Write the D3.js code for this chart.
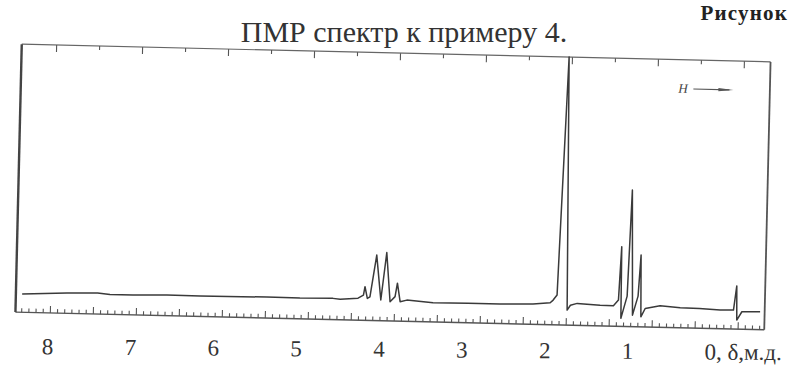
<!DOCTYPE html>
<html><head><meta charset="utf-8">
<script src="https://cdn.jsdelivr.net/npm/d3@7"></script>
<style>html,body{margin:0;padding:0;background:#fff;}svg{display:block}</style>
</head><body>
<svg id="chart" width="793" height="374"></svg>
<script>
// ---- texts ----
const titleText = "ПМР спектр к примеру 4.";
const figureText = "Рисунок";
const fieldText = "H";

// ---- bottom printed labels (δ, ppm) ----
const labelValues = [8, 7, 6, 5, 4, 3, 2, 1, 0];
const labelTexts = ["8", "7", "6", "5", "4", "3", "2", "1", "0, δ,м.д."];

// ---- top scale ticks (ppm) ----
const topMajorTicks = [8, 7, 6, 5, 4, 3, 2, 1, 0];
const topMinorTicks = [7.5, 6.5, 5.5, 4.5, 3.5, 2.5, 1.5, 0.5];

// ---- spectrum trace, [ppm, intensity] ----
const baselineLow = [[8.327,-0.3],[7.806,0.5],[7.45,0.8],[7.306,0.3],[7.038,0.4],[6.643,0.7],[6.259,0.6],[5.48,0.8],[5.097,0.7],[4.713,0.9],[4.629,0.6]];
const quartetCH2 = [[4.421,1.2],[4.359,2.5],[4.343,5.9],[4.313,1.2],[4.283,1.9],[4.215,18.7],[4.156,0.7],[4.099,19.8],[4.048,0.1],[3.991,2.2],[3.967,7.6],[3.931,0.2],[3.853,0.9]];
const baselineMid = [[3.548,0.1],[3.141,0.2],[2.769,0.2],[2.385,0.5]];
const singletCH3 = [[2.186,1.2],[2.152,2.3],[2.108,4.4],[2.033,100],[1.987,-1.6],[1.95,0.4],[1.872,1.2]];
const baselineHigh = [[1.605,0.7],[1.45,0.6],[1.393,2.9]];
const tripletCH3 = [[1.369,24.4],[1.360,-4.4],[1.293,4.6],[1.261,47.2],[1.226,-3.0],[1.166,4.7],[1.142,21.2],[1.128,-3.6],[1.080,-0.2]];
const baselineEnd = [[0.907,1.0],[0.673,0.4],[0.45,0.3],[0.208,-0.1]];
const tmsPeak = [[0.053,0],[0.021,9.7],[0.012,-4.0],[-0.045,-0.6],[-0.257,-0.4]];

const trace = [].concat(baselineLow, quartetCH2, baselineMid, singletCH3, baselineHigh, tripletCH3, baselineEnd, tmsPeak);

// ---- layout ----
const W = 793, H = 374;
const box = {left: 18.5, right: 767.5, top: 53, bottom: 321};
const ink = "#3a3a3a";

const svg = d3.select("#chart");
svg.append("rect").attr("width", W).attr("height", H).attr("fill", "#fff");

const x = d3.scaleLinear().domain([8.4, -0.31]).range([box.left, box.right]);
const y = d3.scaleLinear().domain([0, 100]).range([302, 53]);

// plot is slightly rotated in the scan
const plot = svg.append("g").attr("transform", "rotate(1.35,393,187)");

// frame
plot.append("line").attr("x1", box.left).attr("x2", box.right).attr("y1", box.top).attr("y2", box.top)
  .attr("stroke", "#666").attr("stroke-width", 1.2);
plot.append("line").attr("x1", box.left).attr("x2", box.right).attr("y1", box.bottom).attr("y2", box.bottom)
  .attr("stroke", "#555").attr("stroke-width", 1.4);
plot.append("line").attr("x1", box.left).attr("x2", box.left).attr("y1", box.top).attr("y2", box.bottom)
  .attr("stroke", "#444").attr("stroke-width", 2.4);
plot.append("line").attr("x1", box.right).attr("x2", box.right).attr("y1", box.top).attr("y2", box.bottom)
  .attr("stroke", "#555").attr("stroke-width", 1.8);

// top ticks
function styleAxis(g) {
  g.select(".domain").remove();
  g.selectAll(".tick line").attr("stroke", "#555").attr("stroke-width", 1.1);
  g.selectAll(".tick text").remove();
}
plot.append("g").attr("transform", `translate(0,${box.top})`)
  .call(d3.axisBottom(x).tickValues(topMajorTicks).tickSize(7).tickFormat(""))
  .call(styleAxis);
plot.append("g").attr("transform", `translate(0,${box.top})`)
  .call(d3.axisBottom(x).tickValues(topMinorTicks).tickSize(4).tickFormat(""))
  .call(styleAxis);

// bottom chart-paper ticks: every 1/12 ppm, tall every 0.5 ppm
const dom = x.domain();
const bottomAll = d3.range(-3, 101).map(k => k / 12).filter(v => v <= dom[0] && v >= dom[1]);
const bottomMajor = bottomAll.filter(v => Math.abs(v * 2 - Math.round(v * 2)) < 1e-6);
const bottomMinor = bottomAll.filter(v => !bottomMajor.includes(v));
plot.append("g").attr("transform", `translate(0,${box.bottom})`)
  .call(d3.axisTop(x).tickValues(bottomMinor).tickSize(4).tickFormat(""))
  .call(styleAxis);
plot.append("g").attr("transform", `translate(0,${box.bottom})`)
  .call(d3.axisTop(x).tickValues(bottomMajor).tickSize(7).tickFormat(""))
  .call(styleAxis);

// spectrum
const line = d3.line().x(d => x(d[0])).y(d => y(d[1]));
plot.append("path").datum(trace).attr("d", line)
  .attr("fill", "none").attr("stroke", ink).attr("stroke-width", 1.5)
  .attr("stroke-linejoin", "round");

// field direction marker
const hm = svg.append("g").attr("transform", "rotate(1.35,393,187)");
hm.append("text").attr("x", 676).attr("y", 86).text(fieldText)
  .attr("font-family", "Liberation Serif").attr("font-style", "italic")
  .attr("font-size", 13).attr("fill", "#444");
hm.append("line").attr("x1", 691).attr("x2", 727).attr("y1", 82).attr("y2", 82)
  .attr("stroke", "#555").attr("stroke-width", 1.1);
hm.append("path").attr("d", "M716,80.3 L731,82 L716,83.7 Z").attr("fill", "#555");

// printed ppm labels
const labelScale = d3.scaleLinear().domain([8, 0]).range([47, 710]);
const lab = svg.append("g").attr("transform", "rotate(0.45,393,356) translate(0,357)")
  .call(d3.axisBottom(labelScale).tickValues(labelValues).tickSize(0).tickPadding(0)
    .tickFormat(d => labelTexts[labelValues.indexOf(d)]));
lab.select(".domain").remove();
lab.selectAll(".tick text")
  .attr("y", 0).attr("dy", 0)
  .attr("font-family", "Liberation Serif").attr("font-size", 23).attr("fill", "#333")
  .attr("text-anchor", d => d === 0 ? "start" : "middle")
  .attr("dx", d => d === 0 ? -6 : 0);

// title
svg.append("text").attr("x", 404).attr("y", 42).attr("text-anchor", "middle")
  .attr("font-family", "Liberation Serif").attr("font-size", 30).attr("fill", "#333")
  .text(titleText);

// figure caption at the page corner
svg.append("text").attr("x", 788).attr("y", 20).attr("text-anchor", "end")
  .attr("font-family", "Liberation Serif").attr("font-weight", "bold")
  .attr("font-size", 21).attr("letter-spacing", 1.2).attr("fill", "#222")
  .text(figureText);
</script>
</body></html>
